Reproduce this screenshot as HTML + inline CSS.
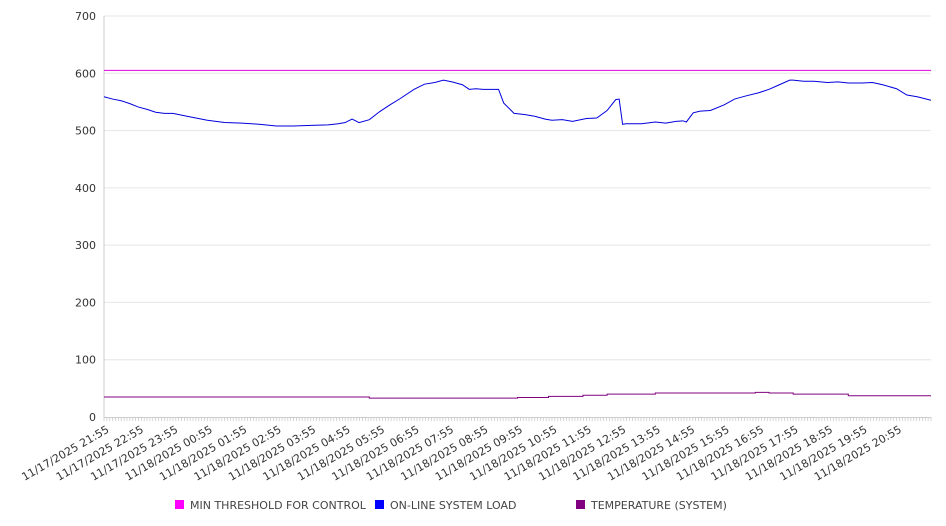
<!DOCTYPE html>
<html><head><meta charset="utf-8"><style>
body{margin:0;background:#fff;}
svg{display:block;font-family:"DejaVu Sans","Liberation Sans",sans-serif;}
</style></head><body>
<svg id="chart" width="946" height="526" viewBox="0 0 946 526" xmlns="http://www.w3.org/2000/svg">
<g id="grid"></g>
<g id="axes"></g>
<g id="series"></g>
<g id="legend"></g>
</svg>
<script>
// hours after 11/17/2025 21:55
const hourLabels = ["11/17/2025 21:55","11/17/2025 22:55","11/17/2025 23:55","11/18/2025 00:55","11/18/2025 01:55","11/18/2025 02:55","11/18/2025 03:55","11/18/2025 04:55","11/18/2025 05:55","11/18/2025 06:55","11/18/2025 07:55","11/18/2025 08:55","11/18/2025 09:55","11/18/2025 10:55","11/18/2025 11:55","11/18/2025 12:55","11/18/2025 13:55","11/18/2025 14:55","11/18/2025 15:55","11/18/2025 16:55","11/18/2025 17:55","11/18/2025 18:55","11/18/2025 19:55","11/18/2025 20:55"];
const yTicks = [0,100,200,300,400,500,600,700];
const loadTimes = [0,0.25,0.5,0.75,1,1.25,1.5,1.75,2,2.5,3,3.5,4,4.5,5,5.5,6,6.5,6.8,7,7.2,7.4,7.7,8,8.3,8.6,9,9.3,9.6,9.85,10.1,10.4,10.6,10.8,11,11.3,11.45,11.6,11.9,12.2,12.5,12.8,13,13.3,13.6,14,14.3,14.6,14.85,14.95,15.05,15.15,15.6,16,16.3,16.6,16.8,16.9,17.1,17.3,17.6,18,18.3,18.6,19,19.3,19.6,19.9,20,20.3,20.6,21,21.3,21.6,22,22.3,22.6,23,23.3,23.6,24];
const loadValues = [559,555,552,547,541,537,532,530,530,524,518,514,513,511,508,508,509,510,512,514,520,514,519,533,545,556,572,581,584,588,585,580,572,573,572,572,572,548,530,528,525,520,518,519,516,521,522,535,554,555,511,512,512,515,513,516,517,515,531,534,535,545,555,560,566,572,580,588,588,586,586,584,585,583,583,584,580,573,562,559,553];
const tempTimes = [0,7.7,10.8,12,12.9,13.9,14.6,16,18.9,19.3,20,21.6,24];
const tempValues = [35,33,33,34,36,38,40,42,43,42,40,37,37];
const thresholdValue = 605;

const X0=104, X1=931, Y0=417, Y1=16;
const xs = t => X0 + t*(X1-X0)/24;
const ys = v => Y0 - v*(Y0-Y1)/700;
const NS="http://www.w3.org/2000/svg";
function mk(tag, parent, attrs){const e=document.createElementNS(NS,tag);for(const k in attrs)e.setAttribute(k,attrs[k]);parent.appendChild(e);return e;}
const grid=document.getElementById('grid'), axes=document.getElementById('axes'), series=document.getElementById('series'), legend=document.getElementById('legend');

yTicks.forEach(v=>{
  if(v>0){const g=mk('line',grid,{x1:X0,x2:X1,y1:ys(v),y2:ys(v),stroke:'#e6e6e6','stroke-width':1});
  
  }
  const t=mk('text',axes,{x:96,y:ys(v)+4,'text-anchor':'end','font-size':11,fill:'#333'});
  t.textContent=v;
  
  
});
const ya=mk('line',axes,{x1:X0,x2:X0,y1:Y1,y2:Y0,stroke:'#ccc'});


const xa=mk('line',axes,{x1:X0,x2:X1,y1:Y0+0.5,y2:Y0+0.5,stroke:'#ccc'});


for(let i=0;i<=24*12;i++){
  const x=xs(i/12);
  const tk=mk('line',axes,{x1:x,x2:x,y1:Y0,y2:Y0+4,stroke:'#ccc','stroke-width':0.8});
  
  
}
hourLabels.forEach((l,i)=>{
  const x=xs(i)+2, y=Y0+8;
  const t=mk('text',axes,{x:x,y:y,'text-anchor':'end','font-size':11,fill:'#333',transform:`rotate(-30 ${x} ${y})`,dy:'0.7em'});
  t.textContent=l;
  
  
});

const th=mk('line',series,{x1:X0,x2:X1,y1:ys(thresholdValue),y2:ys(thresholdValue),stroke:'#e000e0','stroke-width':1});


const lp=mk('polyline',series,{points:loadTimes.map((t,i)=>xs(t)+','+ys(loadValues[i])).join(' '),fill:'none',stroke:'#0000dd','stroke-width':1});


let tpts=[];
tempTimes.forEach((t,i)=>{ if(i>0) tpts.push(xs(t)+','+ys(tempValues[i-1])); tpts.push(xs(t)+','+ys(tempValues[i])); });
const tp=mk('polyline',series,{points:tpts.join(' '),fill:'none',stroke:'#800080','stroke-width':1});



const leg=[["MIN THRESHOLD FOR CONTROL","#ff00ff",175],["ON-LINE SYSTEM LOAD","#0000ff",375],["TEMPERATURE (SYSTEM)","#800080",576]];
leg.forEach(([n,c,x])=>{
  const g=mk('g',legend,{});
  
  
  mk('rect',g,{x:x,y:500,width:9,height:9,fill:c});
  const t=mk('text',g,{x:x+15,y:509,'font-size':11,fill:'#444'});
  t.textContent=n;
});
</script>
</body></html>
